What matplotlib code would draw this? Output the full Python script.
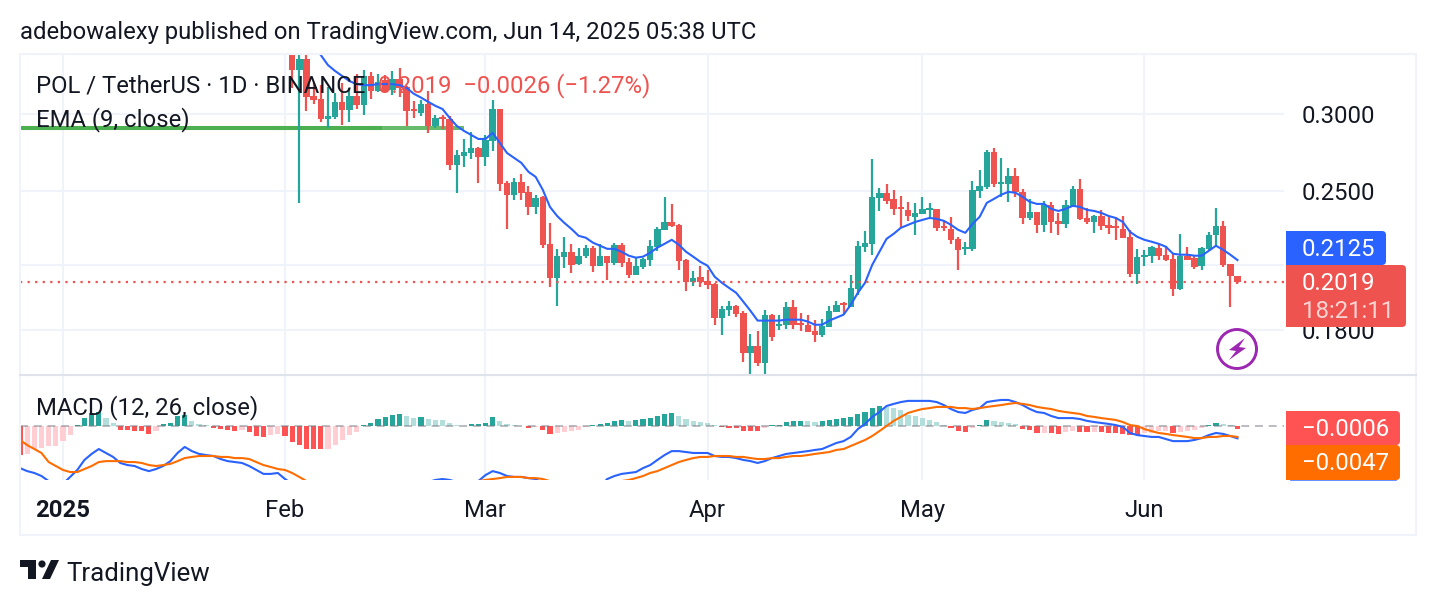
import numpy as np
import matplotlib
matplotlib.use("Agg")
import matplotlib.pyplot as plt
from matplotlib.patches import Circle, FancyBboxPatch, Polygon, Rectangle
from matplotlib.ticker import NullLocator

plt.rcParams['font.family'] = ['Roboto', 'DejaVu Sans']

# day numbers count from Jan 1 2025
month_days = [0, 31, 59, 90, 120, 151]
month_labels = ['2025', 'Feb', 'Mar', 'Apr', 'May', 'Jun']
price_ticks = [0.30, 0.25, 0.21, 0.18]
# 0.21 has a grid line only, the price tags sit on its label
price_labels = ['0.3000', '0.2500', '', '0.1800']

# daily candles from Feb 2 on, January trades above the visible range
first_candle_day = 32
opens = [
    .3530, .3328, .3415, .3132, .3111, .2965, .2979, .3087, .3028, .3132, .3065, .3281, .3168, .3250, .3175, .3258, .3197, .3035, .3007,
    .3073, .2916, .2979, .2965, .2660, .2717, .2736, .2768, .2711, .2815, .3035, .2549, .2479, .2555, .2496, .2409, .2467, .2208, .2038,
    .2142, .2167, .2106, .2147, .2188, .2097, .2147, .2111, .2203, .2116, .2053, .2092, .2126, .2193, .2282, .2325, .2309, .2126, .2019,
    .2043, .2024, .2009, .1855, .1890, .1908, .1876, .1706, .1736, .1667, .1868, .1820, .1824, .1903, .1833, .1824, .1799, .1782, .1816,
    .1881, .1921, .1903, .1986, .2193, .2208, .2461, .2491, .2455, .2409, .2392, .2353, .2369, .2392, .2398, .2303, .2287, .2234, .2182,
    .2182, .2502, .2526, .2742, .2543, .2543, .2592, .2496, .2347, .2381, .2309, .2420, .2331, .2314, .2415, .2514, .2347, .2325, .2358,
    .2309, .2303, .2287, .2245, .2058, .2142, .2147, .2188, .2152, .2132, .1986, .2147, .2137, .2097, .2182, .2255, .2303, .2106, .2045,
]
highs = [
    .3560, .3530, .3510, .3227, .3211, .3197, .3153, .3227, .3189, .3297, .3328, .3313, .3297, .3289, .3320, .3343, .3204, .3094, .3101,
    .3168, .2993, .2993, .2986, .2756, .2828, .2875, .2774, .2855, .3101, .3035, .2561, .2579, .2604, .2532, .2479, .2473, .2320, .2182,
    .2245, .2208, .2188, .2203, .2198, .2208, .2147, .2214, .2214, .2137, .2137, .2137, .2229, .2298, .2467, .2426, .2314, .2132, .2072,
    .2097, .2077, .2014, .1908, .1930, .1912, .1885, .1786, .1799, .1890, .1872, .1868, .1926, .1935, .1876, .1868, .1846, .1850, .1908,
    .1930, .1926, .2053, .2224, .2277, .2698, .2520, .2543, .2508, .2473, .2438, .2432, .2467, .2432, .2398, .2331, .2353, .2245, .2219,
    .2561, .2629, .2756, .2768, .2704, .2641, .2641, .2514, .2455, .2381, .2443, .2438, .2375, .2449, .2532, .2573, .2403, .2364, .2392,
    .2353, .2353, .2358, .2282, .2182, .2177, .2198, .2208, .2198, .2157, .2261, .2193, .2147, .2193, .2271, .2403, .2331, .2106, .2048,
]
lows = [
    .3189, .2432, .3021, .3073, .2944, .2902, .2965, .2923, .2944, .3035, .2993, .3111, .3160, .3153, .3139, .3125, .2916, .2972, .2986,
    .2869, .2902, .2896, .2629, .2491, .2648, .2698, .2549, .2654, .2749, .2502, .2287, .2449, .2449, .2364, .2369, .2188, .1995, .1908,
    .2087, .2063, .2101, .2137, .2067, .2097, .2028, .2101, .2092, .2038, .2053, .2082, .2097, .2172, .2282, .2298, .2077, .1976, .2000,
    .1995, .1986, .1824, .1782, .1863, .1859, .1671, .1625, .1655, .1625, .1757, .1803, .1807, .1807, .1799, .1795, .1753, .1774, .1816,
    .1881, .1872, .1903, .1958, .2167, .2152, .2386, .2426, .2364, .2293, .2331, .2255, .2369, .2347, .2277, .2277, .2208, .2077, .2152,
    .2172, .2461, .2514, .2526, .2467, .2438, .2467, .2314, .2336, .2266, .2271, .2266, .2255, .2293, .2415, .2336, .2314, .2266, .2282,
    .2261, .2229, .2240, .2043, .2009, .2097, .2111, .2126, .2121, .1953, .1981, .2126, .2082, .2077, .2177, .2198, .2092, .1903, .2009,
]
closes = [
    .3328, .3415, .3125, .3101, .2965, .2986, .3087, .3028, .3132, .3065, .3281, .3168, .3234, .3160, .3258, .3189, .3021, .3021, .3073,
    .2916, .2972, .2965, .2660, .2723, .2742, .2768, .2711, .2821, .3035, .2543, .2479, .2555, .2491, .2409, .2461, .2203, .2038, .2147,
    .2167, .2101, .2147, .2188, .2097, .2147, .2111, .2203, .2111, .2053, .2097, .2132, .2198, .2287, .2325, .2303, .2121, .2019, .2038,
    .2019, .2005, .1855, .1894, .1908, .1872, .1706, .1736, .1667, .1868, .1774, .1829, .1903, .1824, .1824, .1795, .1782, .1820, .1885,
    .1912, .1912, .1990, .2198, .2214, .2467, .2491, .2443, .2398, .2398, .2358, .2375, .2398, .2403, .2293, .2293, .2229, .2177, .2193,
    .2508, .2532, .2742, .2543, .2555, .2592, .2496, .2347, .2381, .2309, .2420, .2325, .2314, .2420, .2514, .2342, .2325, .2358, .2303,
    .2293, .2293, .2240, .2058, .2142, .2152, .2193, .2147, .2126, .1986, .2147, .2126, .2092, .2188, .2255, .2303, .2101, .2045, .2019,
]

# EMA 9 from Feb 5
first_ema_day = 35
ema_values = [
    .3530, .3448, .3367, .3320, .3281, .3242, .3219, .3211, .3211, .3219, .3219, .3219, .3211, .3189, .3146, .3118, .3087, .3058, .3035,
    .2972, .2916, .2882, .2855, .2828, .2828, .2869, .2802, .2736, .2704, .2673, .2617, .2586, .2508, .2409, .2358, .2320, .2287, .2250,
    .2240, .2214, .2198, .2182, .2182, .2167, .2147, .2137, .2142, .2162, .2188, .2208, .2229, .2203, .2167, .2142, .2116, .2097, .2043,
    .2014, .1990, .1967, .1926, .1885, .1842, .1842, .1842, .1842, .1846, .1846, .1846, .1838, .1824, .1824, .1842, .1855, .1868, .1912,
    .1967, .2014, .2101, .2167, .2234, .2261, .2293, .2309, .2325, .2336, .2347, .2342, .2331, .2309, .2282, .2266, .2314, .2353, .2432,
    .2455, .2479, .2496, .2491, .2467, .2438, .2426, .2426, .2398, .2386, .2398, .2415, .2409, .2392, .2386, .2375, .2358, .2347, .2325,
    .2271, .2245, .2229, .2219, .2208, .2193, .2157, .2152, .2152, .2147, .2147, .2172, .2198, .2177, .2152, .2125,
]

# flat green line from the left edge to Feb 25
level_price = .2902
level_days = [-6, 56]
level_days_solid = [-6, 44.5]

last_price = .2019
last_ema = .2125

# MACD pane, all three series start at Dec 26 on the left edge
first_macd_day = -6
macd_hist = [
    -.00528, -.00498, -.00408, -.0039, -.00366, -.0036, -.0027, -.00162, .00018, .0015, .0024, .00252, .00144, .00048, -.00066, -.00078,
    -.0009, -.00096, -.00138, -.0009, .0003, .0006, .0018, .00192, .00084, .0003, .00012, -.00036, -.00054, -.00078, -.00084, -.00078,
    -.00108, -.0018, -.00198, -.00168, -.00138, -.0018, -.00288, -.00348, -.00408, -.00414, -.0042, -.00408, -.00336, -.00258, -.00168, -.00108,
    .00012, .0006, .0012, .00156, .00192, .0021, .00174, .0015, .00156, .0012, .00114, .00108, .00048, .00012, .00006, .0003,
    .0003, .0006, .00156, .00084, .0003, .00012, .00006, -.00036, -.00018, -.00078, -.0015, -.00126, -.00108, -.0009, -.00078, -.00018,
    .00012, .0003, .00048, .00084, .00102, .00084, .00102, .0012, .00138, .00174, .0021, .00228, .00174, .0012, .00084, .00066,
    .00048, .00012, -.00018, -.00036, -.00036, -.00084, -.00084, -.0009, -.0003, .00018, .00018, .00066, .00084, .0009, .00084, .00078,
    .00084, .00102, .0012, .00138, .00156, .0021, .00246, .00318, .00354, .00348, .00318, .00282, .00192, .00174, .00138, .00102,
    .00066, .00012, -.00036, -.0009, -.00108, -.00036, .00012, .00102, .00084, .00066, .0006, .0003, -.0006, -.00078, -.00132, -.0012,
    -.00132, -.0015, -.00108, -.00096, -.00102, -.00108, -.00102, -.00114, -.00132, -.00132, -.00138, -.00162, -.00168, -.00132, -.0012, -.00096,
    -.00084, -.00132, -.00108, -.00096, -.00078, -.00036, .00018, .00048, .0003, .00012, -.0006,
]
macd_line = [
    -.0181, -.0194, -.0202, -.0215, -.0237, -.0254, -.0249, -.0219, -.0189, -.0146, -.0120, -.0099, -.0116, -.0133, -.0159, -.0168, -.0172,
    -.0185, -.0194, -.0185, -.0172, -.0151, -.0116, -.0090, -.0108, -.0120, -.0125, -.0129, -.0142, -.0151, -.0155, -.0159, -.0172, -.0189,
    -.0206, -.0206, -.0202, -.0228, -.0249, -.0275, -.0297, -.0310, -.0318, -.0318, -.0314, -.0305, -.0297, -.0288, -.0280, -.0275, -.0271,
    -.0267, -.0262, -.0258, -.0254, -.0249, -.0245, -.0241, -.0232, -.0228, -.0232, -.0241, -.0249, -.0249, -.0237, -.0211, -.0194, -.0202,
    -.0215, -.0219, -.0219, -.0224, -.0228, -.0245, -.0267, -.0284, -.0297, -.0305, -.0305, -.0297, -.0284, -.0258, -.0228, -.0215, -.0206,
    -.0202, -.0198, -.0181, -.0168, -.0146, -.0125, -.0108, -.0108, -.0112, -.0116, -.0116, -.0116, -.0129, -.0133, -.0133, -.0138, -.0146,
    -.0151, -.0159, -.0151, -.0138, -.0129, -.0120, -.0116, -.0112, -.0108, -.0103, -.0099, -.0086, -.0073, -.0065, -.0047, -.0013, .0009,
    .0039, .0060, .0086, .0095, .0103, .0108, .0108, .0108, .0108, .0103, .0090, .0073, .0060, .0056, .0069, .0077, .0103, .0108, .0112,
    .0112, .0103, .0090, .0073, .0060, .0056, .0043, .0034, .0034, .0034, .0030, .0022, .0017, .0013, .0009, .0004, -.0004, -.0030, -.0039,
    -.0043, -.0047, -.0047, -.0056, -.0065, -.0065, -.0065, -.0060, -.0052, -.0039, -.0030, -.0034, -.0043, -.0053,
]
signal_line = [
    -.0060, -.0082, -.0099, -.0116, -.0155, -.0172, -.0189, -.0198, -.0198, -.0185, -.0172, -.0155, -.0151, -.0151, -.0151, -.0155, -.0155,
    -.0159, -.0168, -.0172, -.0168, -.0163, -.0151, -.0138, -.0133, -.0129, -.0129, -.0129, -.0133, -.0133, -.0138, -.0138, -.0142, -.0155,
    -.0168, -.0176, -.0185, -.0189, -.0202, -.0219, -.0237, -.0258, -.0275, -.0288, -.0301, -.0310, -.0318, -.0323, -.0327, -.0327, -.0323,
    -.0318, -.0314, -.0305, -.0297, -.0288, -.0280, -.0275, -.0267, -.0262, -.0254, -.0249, -.0245, -.0241, -.0237, -.0232, -.0228, -.0224,
    -.0219, -.0219, -.0219, -.0224, -.0224, -.0228, -.0237, -.0245, -.0249, -.0254, -.0258, -.0258, -.0258, -.0254, -.0249, -.0245, -.0237,
    -.0232, -.0224, -.0215, -.0202, -.0194, -.0181, -.0168, -.0155, -.0146, -.0138, -.0133, -.0133, -.0129, -.0129, -.0129, -.0133, -.0133,
    -.0138, -.0142, -.0142, -.0138, -.0138, -.0133, -.0129, -.0129, -.0125, -.0120, -.0116, -.0112, -.0103, -.0099, -.0086, -.0073, -.0060,
    -.0043, -.0022, .0000, .0022, .0039, .0056, .0065, .0073, .0077, .0082, .0082, .0082, .0077, .0077, .0073, .0077, .0082, .0086, .0090,
    .0095, .0099, .0095, .0090, .0082, .0077, .0073, .0065, .0060, .0056, .0052, .0043, .0039, .0034, .0030, .0026, .0017, .0004, .0000,
    -.0013, -.0022, -.0030, -.0034, -.0039, -.0043, -.0047, -.0052, -.0052, -.0047, -.0047, -.0043, -.0043, -.0047,
]

GREEN = '#26a69a'
RED = '#ef5350'
GRID = '#f0f3fa'
INK = '#131722'
FS = 17.2
W, H = 1436, 606


def px_axes(left, top, right, bottom):
    # axes rectangle given in pixels from the top left corner
    return fig.add_axes([left / W, 1 - bottom / H, (right - left) / W, (bottom - top) / H])


fig = plt.figure(figsize=(W / 100, H / 100), dpi=100, facecolor='white')

# x limits shared by both panes
xlim = (-6.0, 170.5)

# price pane
ax = px_axes(20, 54, 1284, 375)
ax.set_yscale('log')
ax.set_xlim(xlim)
ax.set_ylim(.1620, .3456)
for s in ax.spines.values():
    s.set_visible(False)
ax.set_axisbelow(True)
ax.grid(True, color=GRID, lw=1.5)
ax.set_xticks(month_days)
ax.set_xticklabels([])
ax.yaxis.tick_right()
ax.yaxis.set_minor_locator(NullLocator())
ax.yaxis.set_minor_formatter(plt.NullFormatter())
ax.set_yticks(price_ticks)
ax.set_yticklabels(price_labels)
ax.tick_params(axis='both', length=0)
ax.tick_params(axis='y', labelsize=FS, labelcolor=INK, pad=13)

ax.plot(level_days, [level_price] * 2, color='#4caf50', lw=2.9, alpha=.85, solid_capstyle='butt', zorder=2)
ax.plot(level_days_solid, [level_price] * 2, color='#4caf50', lw=2.9, solid_capstyle='butt', zorder=2)

days = first_candle_day + np.arange(len(opens))
o, c = np.array(opens), np.array(closes)
colors = [GREEN if b >= a else RED for a, b in zip(o, c)]
ax.vlines(days, lows, highs, colors=colors, lw=1.6, zorder=3)
ax.bar(days, np.abs(c - o), bottom=np.minimum(o, c), width=.9, color=colors, zorder=3)

ema_days = first_ema_day + np.arange(len(ema_values))
ax.plot(ema_days, ema_values, color='#2962ff', lw=1.5, zorder=4)
ax.axhline(last_price, color=RED, lw=1.6, ls=(0, (1, 2.4)), zorder=4)

# MACD pane, the histogram has its own scale
ax_hist = px_axes(20, 376, 1284, 480)
ax_hist.set_xlim(xlim)
ax_hist.set_ylim(-.00972, .009)
for s in ax_hist.spines.values():
    s.set_visible(False)
ax_hist.set_axisbelow(True)
ax_hist.grid(True, axis='x', color=GRID, lw=1.5)
ax_hist.set_yticks([])
ax_hist.set_xticks(month_days)
ax_hist.set_xticklabels(month_labels)
ax_hist.tick_params(axis='x', length=0, labelsize=FS, labelcolor=INK, pad=14)
ax_hist.get_xticklabels()[0].set_fontweight('bold')

hist_days = first_macd_day + np.arange(len(macd_hist))
hist_colors = []
prev = macd_hist[0] + .0001
for v in macd_hist:
    if v >= 0:
        hist_colors.append(GREEN if v >= prev else '#b2dfdb')
    else:
        hist_colors.append('#ff5252' if v <= prev else '#ffcdd2')
    prev = v
ax_hist.bar(hist_days, macd_hist, width=.72, color=hist_colors, zorder=2)
ax_hist.axhline(0, color='#787b86', alpha=.55, lw=1.3, ls=(0, (4.4, 3.2)), zorder=3)

ax_lines = px_axes(20, 376, 1284, 480)
ax_lines.patch.set_alpha(0)
ax_lines.set_xlim(xlim)
ax_lines.set_ylim(-.02322, .0215)
ax_lines.axis('off')
macd_days = first_macd_day + np.arange(len(macd_line))
ax_lines.plot(macd_days, macd_line, color='#2962ff', lw=1.5)
ax_lines.plot(macd_days, signal_line, color='#ff6d00', lw=1.5)

# texts, price tags and logos sit on a full figure layer in pixels
top = fig.add_axes([0, 0, 1, 1], zorder=10)
top.patch.set_alpha(0)
top.set_xlim(0, W)
top.set_ylim(H, 0)
top.axis('off')

top.add_patch(Rectangle((20, 54), 1396, 481, fill=False, ec=GRID, lw=1.5))
top.plot([20, 1416], [375, 375], color='#e0e3eb', lw=1.5)

top.text(20, 32.5, 'adebowalexy published on TradingView.com, Jun 14, 2025 05:38 UTC',
         fontsize=FS, color=INK, va='center')
top.text(36, 86, 'POL / TetherUS · 1D · BINANCE', fontsize=FS, color=INK, va='center')
top.text(378, 86, '0.2019  −0.0026 (−1.27%)', fontsize=FS, color=RED, va='center')
top.text(36, 120, 'EMA (9, close)', fontsize=FS, color=INK, va='center')
top.text(36, 408, 'MACD (12, 26, close)', fontsize=FS, color=INK, va='center')


def tag(x0, y0, x1, y1, color):
    # right hand corners rounded, left hand corners square
    top.add_patch(FancyBboxPatch((x1 - 8, y0), 8, y1 - y0, boxstyle='round,pad=0,rounding_size=4',
                                 fc=color, ec='none'))
    top.add_patch(Rectangle((x0, y0), x1 - x0 - 5, y1 - y0, fc=color, ec='none'))


tag(1286, 231, 1386, 265, '#2962ff')
top.text(1302, 250, f'{last_ema:.4f}', fontsize=FS, color='white', va='center')
tag(1286, 265, 1406, 327, RED)
top.text(1302, 284, f'{last_price:.4f}', fontsize=FS, color='white', va='center')
top.text(1302, 312, '18:21:11', fontsize=FS, color='#fbd5d4', va='center')
tag(1286, 411, 1400, 445, '#ff5252')
top.text(1302, 430, f'−{abs(macd_hist[-1]):.4f}', fontsize=FS, color='white', va='center')
tag(1286, 445, 1400, 480, '#ff6d00')
top.text(1302, 463, f'−{abs(signal_line[-1]):.4f}', fontsize=FS, color='white', va='center')
top.plot([1290, 1396], [480.3, 480.3], color='#2962ff', lw=.5)

# purple lightning badge
top.add_patch(Circle((1237, 349), 19.5, fill=False, ec='#9c27b0', lw=2.1))
top.add_patch(Polygon([(1245, 338), (1229, 350), (1236, 351), (1229, 360), (1246, 348), (1239, 347)],
                      closed=True, fc='#9c27b0', ec='none'))

# TradingView mark
top.add_patch(Polygon([(20, 560), (36, 560), (36, 579), (28, 579), (28, 567), (20, 567)],
                      closed=True, fc=INK, ec='none'))
top.add_patch(Circle((42, 564), 3.6, fc=INK, ec='none'))
top.add_patch(Polygon([(51, 560), (59, 560), (50, 579), (42, 579)], closed=True, fc=INK, ec='none'))
top.text(66, 574, 'TradingView', fontsize=18.6, color=INK, va='center')

fig.savefig('out.png', dpi=100)
